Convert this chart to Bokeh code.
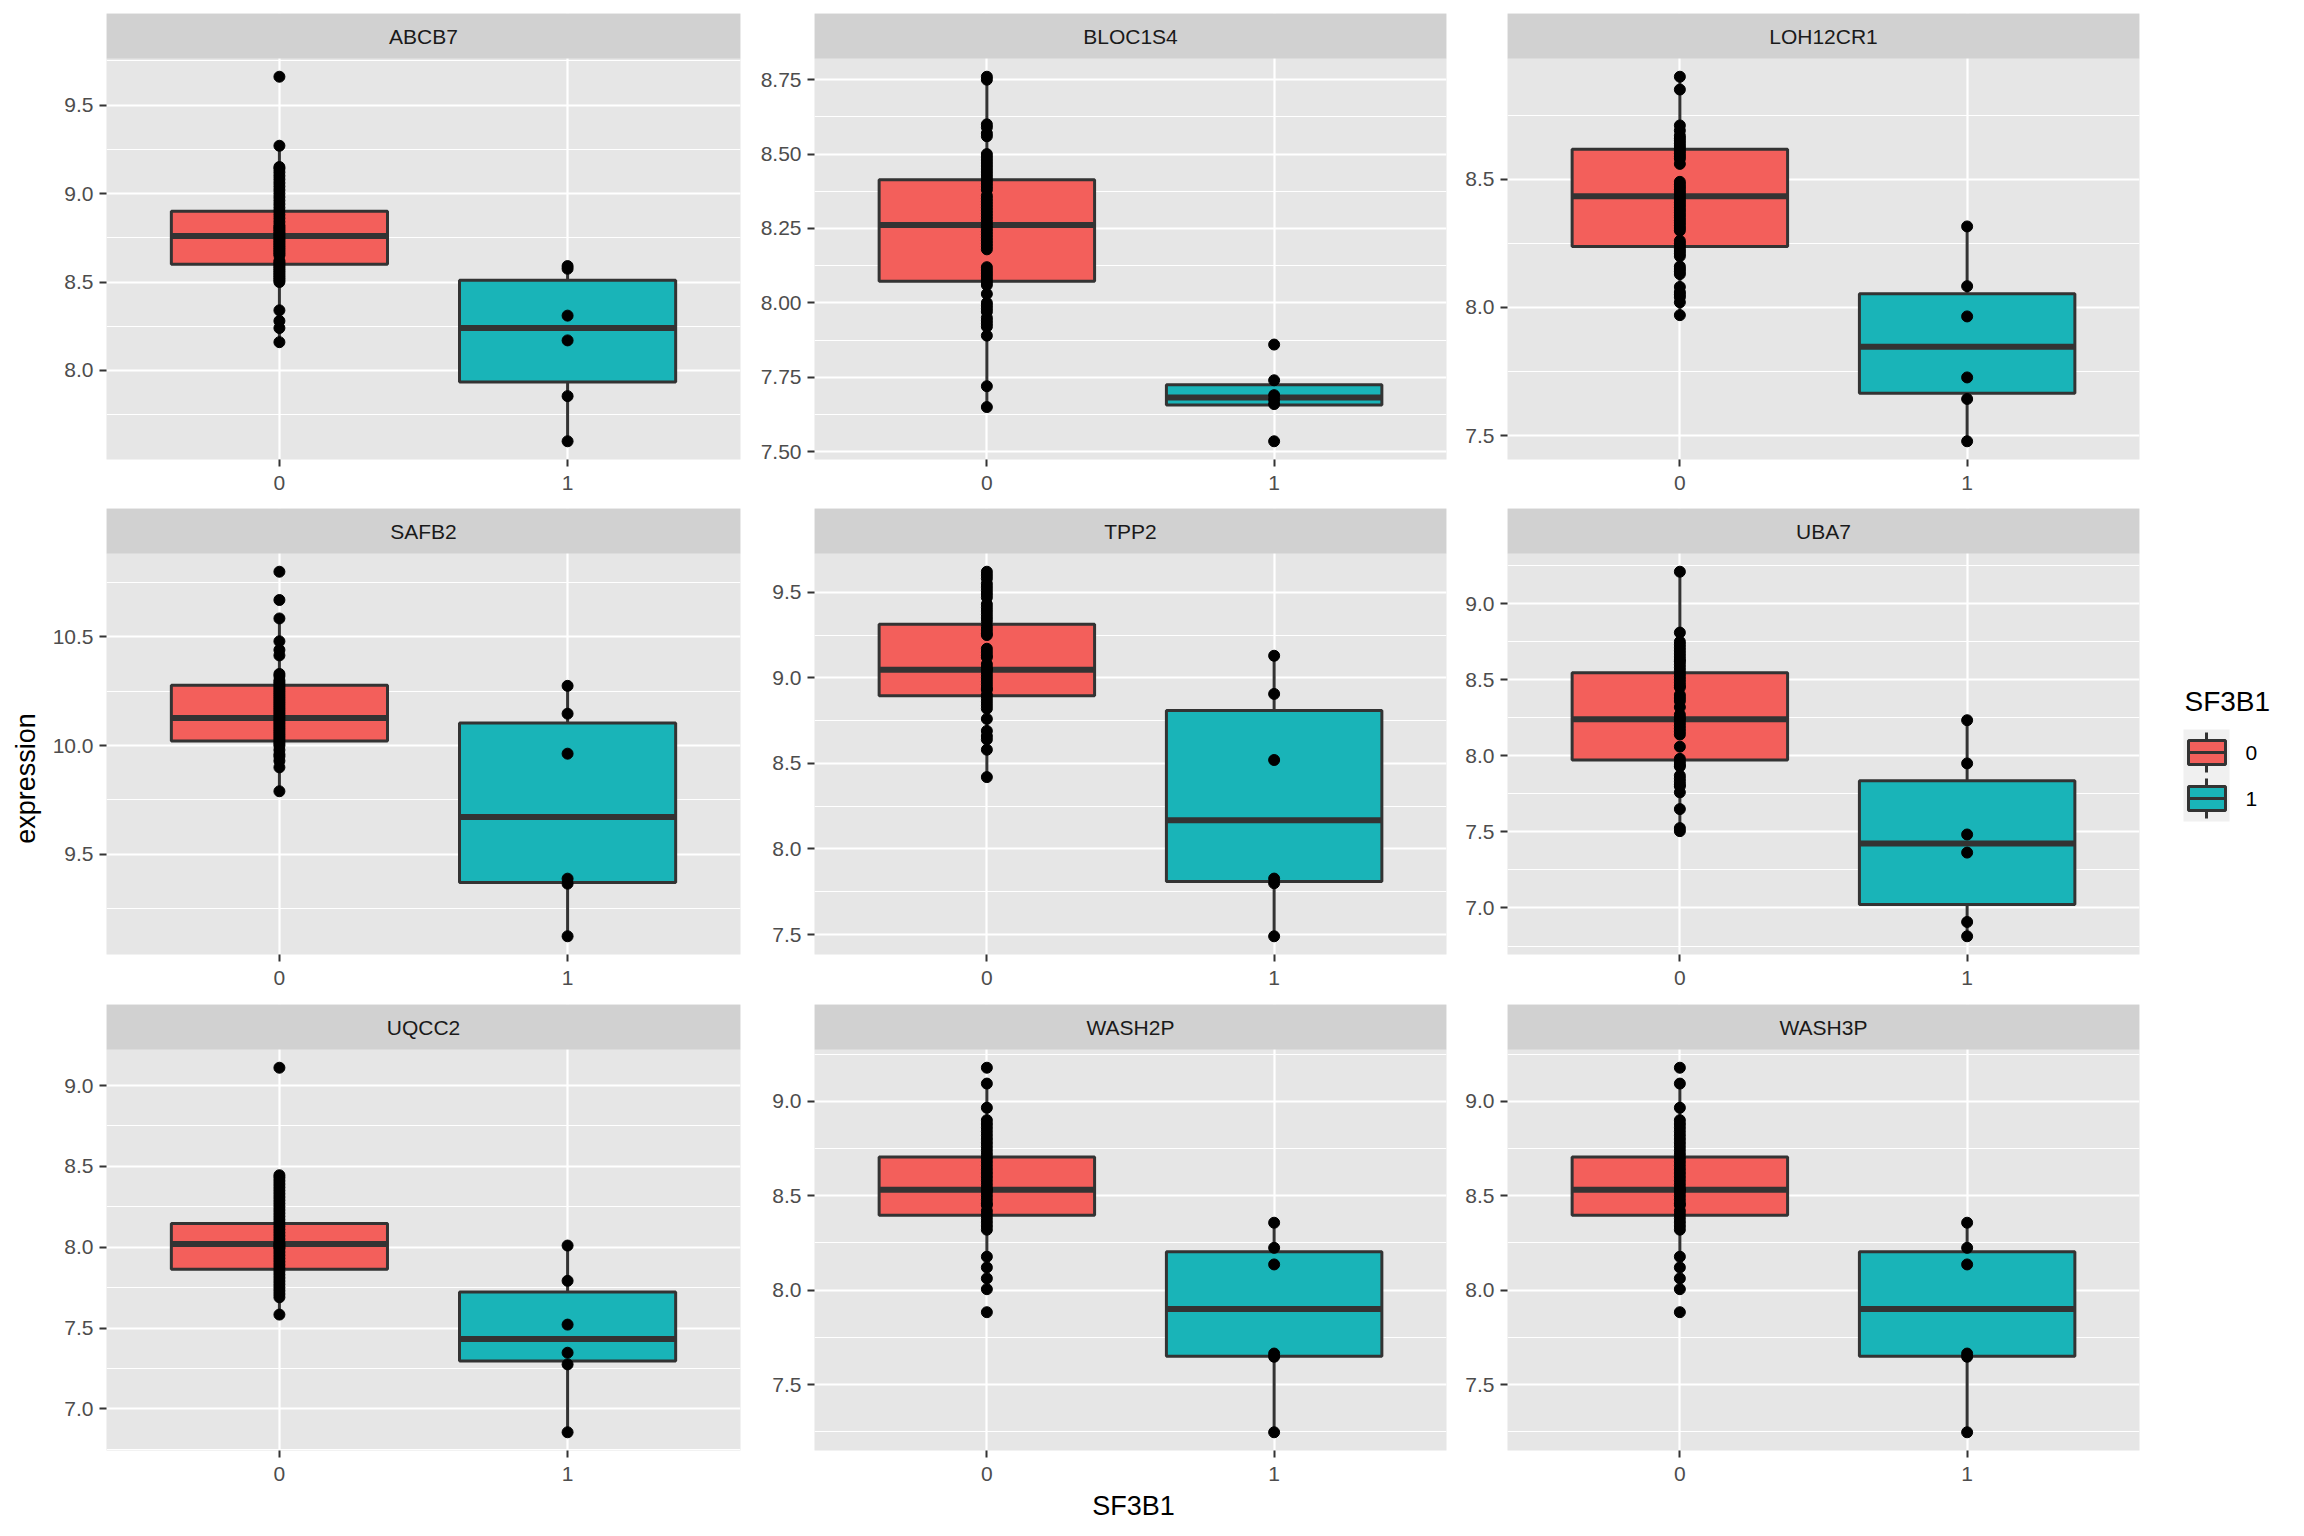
from bokeh.plotting import figure
from bokeh.models import Range1d, FactorRange, FixedTicker, PrintfTickFormatter, BoxAnnotation, ColumnDataSource
from bokeh.layouts import row, column
from bokeh.embed import file_html
from bokeh.resources import INLINE
from bokeh.core.properties import value

# ---------------- data ----------------
GENES = ["ABCB7", "BLOC1S4", "LOH12CR1", "SAFB2", "TPP2", "UBA7", "UQCC2", "WASH2P", "WASH3P"]
GROUPS = ["0", "1"]
FILL = ["#F35F5B", "#19B4B8"]

ABCB7_0 = [9.66, 9.27, 9.15, 9.14, 9.12, 9.10, 9.08, 9.06, 9.04, 9.02, 9.00, 8.98, 8.96, 8.94, 8.92,
           8.90, 8.88, 8.86, 8.84, 8.82, 8.81, 8.80, 8.79, 8.78, 8.77, 8.76, 8.75, 8.74, 8.73, 8.72,
           8.71, 8.70, 8.69, 8.68, 8.67, 8.66, 8.65, 8.62, 8.61, 8.60, 8.59, 8.58, 8.57, 8.56, 8.55,
           8.54, 8.53, 8.52, 8.51, 8.50, 8.34, 8.28, 8.24, 8.16]
ABCB7_1 = [8.59, 8.575, 8.31, 8.17, 7.855, 7.60]
BLOC1S4_0 = [8.76, 8.75, 8.60, 8.59, 8.57, 8.56, 8.50, 8.49, 8.48, 8.47, 8.46, 8.45, 8.44, 8.43, 8.42,
             8.41, 8.40, 8.39, 8.38, 8.36, 8.35, 8.34, 8.33, 8.32, 8.31, 8.30, 8.29, 8.28, 8.27, 8.26,
             8.25, 8.24, 8.23, 8.22, 8.21, 8.20, 8.19, 8.18, 8.12, 8.11, 8.10, 8.09, 8.08, 8.07, 8.06,
             8.03, 8.00, 7.99, 7.98, 7.97, 7.95, 7.94, 7.93, 7.92, 7.89, 7.72, 7.65]
BLOC1S4_1 = [7.86, 7.74, 7.69, 7.675, 7.66, 7.535]
LOH12CR1_0 = [8.90, 8.85, 8.71, 8.69, 8.67, 8.66, 8.65, 8.64, 8.63, 8.62, 8.61, 8.60, 8.59, 8.58, 8.56,
              8.49, 8.48, 8.47, 8.46, 8.45, 8.44, 8.43, 8.42, 8.41, 8.40, 8.39, 8.38, 8.37, 8.36, 8.35,
              8.34, 8.33, 8.32, 8.31, 8.30, 8.26, 8.25, 8.24, 8.23, 8.22, 8.21, 8.20, 8.16, 8.15, 8.14,
              8.13, 8.08, 8.06, 8.05, 8.04, 8.02, 7.97]
LOH12CR1_1 = [8.316, 8.083, 7.965, 7.727, 7.643, 7.478]
SAFB2_0 = [10.80, 10.67, 10.585, 10.48, 10.44, 10.415, 10.33, 10.32, 10.30, 10.29, 10.28, 10.27, 10.26,
           10.25, 10.24, 10.23, 10.22, 10.21, 10.20, 10.19, 10.18, 10.17, 10.16, 10.15, 10.14, 10.13,
           10.12, 10.11, 10.10, 10.09, 10.08, 10.07, 10.06, 10.05, 10.04, 10.03, 10.02, 10.01, 10.00,
           9.98, 9.96, 9.95, 9.93, 9.90, 9.79]
SAFB2_1 = [10.275, 10.147, 9.963, 9.388, 9.365, 9.123]
TPP2_0 = [9.62, 9.60, 9.58, 9.55, 9.53, 9.51, 9.49, 9.47, 9.43, 9.41, 9.39, 9.37, 9.35, 9.33, 9.30,
          9.28, 9.26, 9.25, 9.17, 9.15, 9.13, 9.12, 9.08, 9.06, 9.05, 9.04, 9.02, 9.00, 8.98, 8.96,
          8.94, 8.93, 8.90, 8.88, 8.86, 8.84, 8.82, 8.76, 8.69, 8.66, 8.64, 8.58, 8.42]
TPP2_1 = [9.129, 8.906, 8.52, 7.827, 7.80, 7.49]
UBA7_0 = [9.21, 8.81, 8.75, 8.73, 8.71, 8.69, 8.67, 8.65, 8.63, 8.62, 8.60, 8.58, 8.56, 8.54, 8.52,
          8.50, 8.48, 8.46, 8.45, 8.40, 8.38, 8.36, 8.32, 8.27, 8.25, 8.24, 8.22, 8.20, 8.18, 8.16,
          8.14, 8.06, 7.98, 7.96, 7.94, 7.93, 7.87, 7.85, 7.83, 7.81, 7.80, 7.76, 7.65, 7.525, 7.505]
UBA7_1 = [8.234, 7.95, 7.483, 7.364, 6.908, 6.814]
UQCC2_0 = [9.11, 8.445, 8.43, 8.41, 8.39, 8.37, 8.35, 8.33, 8.31, 8.29, 8.27, 8.25, 8.23, 8.21, 8.19,
           8.17, 8.15, 8.13, 8.11, 8.09, 8.07, 8.05, 8.03, 8.02, 8.01, 8.00, 7.99, 7.97, 7.95, 7.93,
           7.91, 7.89, 7.87, 7.85, 7.83, 7.81, 7.79, 7.77, 7.75, 7.73, 7.71, 7.69, 7.583]
UQCC2_1 = [8.01, 7.792, 7.521, 7.347, 7.275, 6.855]
WASH2P_0 = [9.178, 9.094, 8.966, 8.90, 8.88, 8.86, 8.84, 8.82, 8.80, 8.78, 8.76, 8.74, 8.72, 8.70,
            8.68, 8.66, 8.64, 8.62, 8.60, 8.58, 8.56, 8.54, 8.53, 8.52, 8.50, 8.48, 8.46, 8.45, 8.42,
            8.40, 8.38, 8.36, 8.34, 8.32, 8.177, 8.12, 8.062, 8.005, 7.883]
WASH2P_1 = [8.357, 8.224, 8.136, 7.664, 7.647, 7.247]
WASH3P_0 = list(WASH2P_0)
WASH3P_1 = list(WASH2P_1)

EXPR = {
    "ABCB7": (ABCB7_0, ABCB7_1), "BLOC1S4": (BLOC1S4_0, BLOC1S4_1), "LOH12CR1": (LOH12CR1_0, LOH12CR1_1),
    "SAFB2": (SAFB2_0, SAFB2_1), "TPP2": (TPP2_0, TPP2_1), "UBA7": (UBA7_0, UBA7_1),
    "UQCC2": (UQCC2_0, UQCC2_1), "WASH2P": (WASH2P_0, WASH2P_1), "WASH3P": (WASH3P_0, WASH3P_1),
}

# box statistics: (lower whisker, Q1, median, Q3, upper whisker)
BOX_0 = {
    "ABCB7": (8.16, 8.60, 8.76, 8.90, 9.27),
    "BLOC1S4": (7.65, 8.073, 8.262, 8.414, 8.76),
    "LOH12CR1": (7.97, 8.238, 8.434, 8.617, 8.90),
    "SAFB2": (9.79, 10.021, 10.127, 10.278, 10.585),
    "TPP2": (8.42, 8.895, 9.047, 9.313, 9.62),
    "UBA7": (7.505, 7.972, 8.24, 8.546, 9.21),
    "UQCC2": (7.583, 7.864, 8.019, 8.147, 8.445),
    "WASH2P": (8.005, 8.396, 8.532, 8.705, 9.094),
    "WASH3P": (8.005, 8.396, 8.532, 8.705, 9.094),
}
BOX_1 = {
    "ABCB7": (7.60, 7.935, 8.24, 8.51, 8.59),
    "BLOC1S4": (7.66, 7.657, 7.682, 7.725, 7.74),
    "LOH12CR1": (7.478, 7.665, 7.847, 8.053, 8.316),
    "SAFB2": (9.123, 9.37, 9.672, 10.104, 10.275),
    "TPP2": (7.49, 7.81, 8.168, 8.809, 9.129),
    "UBA7": (6.814, 7.023, 7.424, 7.836, 8.234),
    "UQCC2": (6.855, 7.296, 7.432, 7.723, 8.01),
    "WASH2P": (7.247, 7.65, 7.90, 8.203, 8.357),
    "WASH3P": (7.247, 7.65, 7.90, 8.203, 8.357),
}

Y_BREAKS = {
    "ABCB7": [8.0, 8.5, 9.0, 9.5],
    "BLOC1S4": [7.50, 7.75, 8.00, 8.25, 8.50, 8.75],
    "LOH12CR1": [7.5, 8.0, 8.5],
    "SAFB2": [9.5, 10.0, 10.5],
    "TPP2": [7.5, 8.0, 8.5, 9.0, 9.5],
    "UBA7": [7.0, 7.5, 8.0, 8.5, 9.0],
    "UQCC2": [7.0, 7.5, 8.0, 8.5, 9.0],
    "WASH2P": [7.5, 8.0, 8.5, 9.0],
    "WASH3P": [7.5, 8.0, 8.5, 9.0],
}
Y_DIGITS = {"BLOC1S4": 2}

X_TITLE = "SF3B1"
Y_TITLE = "expression"
LEGEND_TITLE = "SF3B1"

# ---------------- style / layout ----------------
FONT = "Liberation Sans"
PANEL_BG = "#E6E6E6"
STRIP_BG = "#D1D1D1"
KEY_BG = "#F0F0F0"
EDGE = "#333333"
STRIP_H = 45
MARGIN = 8

YT_W = 46
COL_W = [704, 703, 695]
COL_BL = [60, 64, 54]
COL_BR = [10, 7, 9]
ROW_H = [498, 495, 495]
ROW_BT = [13, 10, 11]
ROW_BB = [39, 39, 38]
XT_H = 38
LG_W = 140


def make_panel(gene, ci, ri):
    g0, g1 = EXPR[gene]
    allv = g0 + g1
    dmin, dmax = min(allv), max(allv)
    span = dmax - dmin
    lo, hi = dmin - 0.05 * span, dmax + 0.05 * span
    frame_h = ROW_H[ri] - ROW_BT[ri] - ROW_BB[ri]
    strip_d = (hi - lo) * STRIP_H / (frame_h - STRIP_H)

    p = figure(width=COL_W[ci], height=ROW_H[ri],
               x_range=FactorRange(factors=GROUPS, range_padding=0.1),
               y_range=Range1d(lo, hi + strip_d),
               output_backend="svg", toolbar_location=None,
               min_border_left=COL_BL[ci], min_border_right=COL_BR[ci],
               min_border_top=ROW_BT[ri], min_border_bottom=ROW_BB[ri])
    p.background_fill_color = PANEL_BG
    p.border_fill_color = "white"
    p.outline_line_color = None

    majors = Y_BREAKS[gene]
    step = majors[1] - majors[0]
    cand = [majors[0] - step / 2] + [(a + b) / 2 for a, b in zip(majors[:-1], majors[1:])] + [majors[-1] + step / 2]
    minors = [m for m in cand if lo <= m <= hi]
    p.yaxis.ticker = FixedTicker(ticks=majors, minor_ticks=minors)
    p.yaxis.formatter = PrintfTickFormatter(format="%%.%df" % Y_DIGITS.get(gene, 1))

    for ax in (p.xaxis, p.yaxis):
        ax.axis_line_color = None
        ax.major_tick_line_color = EDGE
        ax.major_tick_line_width = 2
        ax.major_tick_out = 7
        ax.major_tick_in = 0
        ax.minor_tick_line_color = None
        ax.major_label_text_font = FONT
        ax.major_label_text_font_size = "21px"
        ax.major_label_text_color = "#4D4D4D"
    p.yaxis.major_label_standoff = 6
    p.xaxis.major_label_standoff = 9

    p.xgrid.grid_line_color = "white"
    p.xgrid.grid_line_width = 2.2
    p.ygrid.grid_line_color = "white"
    p.ygrid.grid_line_width = 2.2
    p.ygrid.minor_grid_line_color = "white"
    p.ygrid.minor_grid_line_width = 1.1

    b0, b1 = BOX_0[gene], BOX_1[gene]
    src = ColumnDataSource(dict(
        g=GROUPS,
        wlo=[b0[0], b1[0]], q1=[b0[1], b1[1]], med=[b0[2], b1[2]],
        q3=[b0[3], b1[3]], whi=[b0[4], b1[4]], color=FILL))
    p.segment(x0="g", y0="q3", x1="g", y1="whi", source=src, line_color=EDGE, line_width=3)
    p.segment(x0="g", y0="wlo", x1="g", y1="q1", source=src, line_color=EDGE, line_width=3)
    p.vbar(x="g", top="q3", bottom="q1", width=0.75, source=src,
           fill_color="color", line_color=EDGE, line_width=3)
    p.rect(x="g", y="med", width=0.75, height=6, height_units="screen", source=src,
           fill_color=EDGE, line_color=None)

    xs = [GROUPS[0]] * len(g0) + [GROUPS[1]] * len(g1)
    p.scatter(x=xs, y=allv, size=11, fill_color="black", line_color="black")

    p.add_layout(BoxAnnotation(bottom=hi, fill_color=STRIP_BG, fill_alpha=1.0, line_color=None))
    t = p.text(x=[1.0], y=[hi + strip_d / 2], text=[gene], text_align="center", text_baseline="middle",
               text_font=value(FONT), text_font_size="21px", text_color="#1A1A1A")
    t.level = "overlay"
    return p


def blank(width, height, lx, ly):
    # ranges expressed in page pixel coordinates (y downward)
    x0, y0 = lx + MARGIN, ly + MARGIN
    f = figure(width=width, height=height, x_range=Range1d(x0, x0 + width), y_range=Range1d(y0 + height, y0),
               output_backend="svg", toolbar_location=None, x_axis_type=None, y_axis_type=None,
               min_border=0)
    f.outline_line_color = None
    f.background_fill_color = "white"
    f.border_fill_color = "white"
    f.grid.visible = False
    return f


rows = []
for ri in range(3):
    figs = [make_panel(GENES[ri * 3 + ci], ci, ri) for ci in range(3)]
    rows.append(row(*figs, spacing=0))

TOTAL_H = sum(ROW_H) + XT_H

# x-axis title
xt = blank(sum(COL_W), XT_H, YT_W, sum(ROW_H))
xt.text(x=[1141], y=[1513], text=[X_TITLE], text_align="center", text_baseline="middle",
        text_font=value(FONT), text_font_size="27px", text_color="black")

# y-axis title
yt = blank(YT_W, TOTAL_H, 0, 0)
yt.text(x=[33], y=[786], text=[Y_TITLE], angle=1.5707963, text_align="center", text_baseline="middle",
        text_font=value(FONT), text_font_size="27px", text_color="black")

# legend
lg = blank(LG_W, TOTAL_H, YT_W + sum(COL_W), 0)
lg.text(x=[2192], y=[709], text=[LEGEND_TITLE], text_align="left", text_baseline="middle",
        text_font=value(FONT), text_font_size="28px", text_color="black")
key_top = 737
key_h = 46
key_l, key_r = 2191, 2237
lg.quad(left=[key_l], right=[key_r], top=[key_top], bottom=[key_top + key_h * len(GROUPS)],
        fill_color=KEY_BG, line_color=None)
for k, (grp, col) in enumerate(zip(GROUPS, FILL)):
    cy = key_top + key_h * k + 23
    cx = (key_l + key_r) / 2
    lg.segment(x0=[cx, cx], y0=[cy - 20, cy + 12], x1=[cx, cx], y1=[cy - 12, cy + 20],
               line_color=EDGE, line_width=3)
    lg.quad(left=[key_l + 5], right=[key_r - 4], top=[cy - 12], bottom=[cy + 12], fill_color=col,
            line_color=EDGE, line_width=3)
    lg.segment(x0=[key_l + 5], y0=[cy], x1=[key_r - 4], y1=[cy], line_color=EDGE, line_width=3)
    lg.text(x=[2253], y=[cy], text=[grp], text_align="left", text_baseline="middle",
            text_font=value(FONT), text_font_size="21px", text_color="black")

layout = row(yt, column(*rows, xt, spacing=0), lg, spacing=0)

open("out.html", "w").write(file_html(layout, INLINE))
